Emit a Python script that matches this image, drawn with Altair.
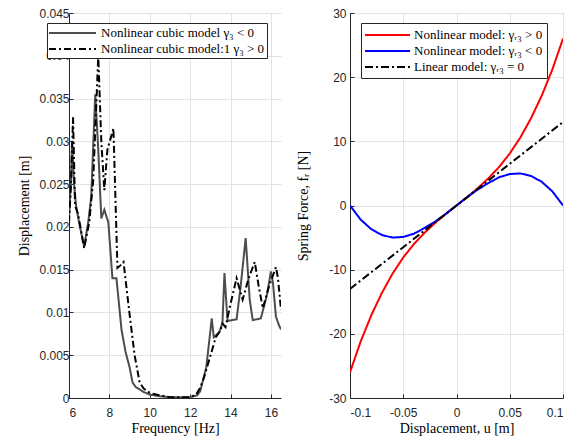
import altair as alt
import pandas as pd

# ---------------- Left panel data ----------------
freq_neg = [6.0, 6.1, 6.15, 6.25, 6.35, 6.5, 6.75, 6.95, 7.1, 7.3, 7.45, 7.6, 7.75, 7.95,
            8.15, 8.35, 8.6, 8.8, 9.0, 9.15, 9.3, 9.7, 10.0, 10.5, 11.0, 12.0, 12.35, 12.5,
            12.8, 13.07, 13.17, 13.45, 13.6, 13.7, 13.85, 14.3, 14.5, 14.75, 14.95, 15.1,
            15.5, 15.8, 16.0, 16.1, 16.25, 16.4, 16.5]
disp_neg = [0.021, 0.0255, 0.030, 0.025, 0.0225, 0.0205, 0.0177, 0.0205, 0.0235, 0.0355,
            0.029, 0.021, 0.022, 0.0205, 0.014, 0.014, 0.008, 0.0054, 0.0036, 0.0018, 0.0013,
            0.0007, 0.0004, 0.0002, 0.0001, 0.0001, 0.0003, 0.0008, 0.0036, 0.0093, 0.0071,
            0.0077, 0.0088, 0.0146, 0.009, 0.0092, 0.013, 0.0187, 0.0115, 0.0091, 0.0093,
            0.012, 0.0148, 0.0135, 0.0095, 0.0085, 0.008]

freq_pos = [6.0, 6.1, 6.2, 6.3, 6.45, 6.75, 7.0, 7.2, 7.45, 7.6, 7.75, 7.9, 8.2, 8.4, 8.55,
            8.7, 9.0, 9.25, 9.5, 9.7, 10.0, 10.5, 11.0, 12.0, 12.3, 12.5, 12.7, 12.95, 13.27,
            13.5, 13.6, 13.75, 14.0, 14.3, 14.6, 14.9, 15.2, 15.4, 15.6, 15.9, 16.25, 16.35, 16.5]
disp_pos = [0.0205, 0.025, 0.0328, 0.0225, 0.0215, 0.0175, 0.0205, 0.0255, 0.0400, 0.030,
            0.0243, 0.029, 0.0315, 0.0152, 0.0155, 0.0159, 0.0098, 0.005, 0.0018, 0.0011,
            0.0006, 0.0003, 0.0001, 0.0001, 0.0004, 0.0012, 0.0025, 0.0045, 0.0071, 0.0079,
            0.0087, 0.0083, 0.011, 0.014, 0.0115, 0.014, 0.0159, 0.013, 0.0105, 0.013, 0.0153,
            0.014, 0.0103]

left_series = ["Nonlinear cubic model γ₃ < 0", "Nonlinear cubic model:1 γ₃ > 0"]
left_colors = ["#4d4d4d", "#000000"]
left_dashes = [[1, 0], [7, 3, 2, 3]]
left_x_ticks = [6, 8, 10, 12, 14, 16]
left_y_ticks = [0, 0.005, 0.01, 0.015, 0.02, 0.025, 0.03, 0.035, 0.04, 0.045]

# ---------------- Right panel data ----------------
u_vals = [-0.1, -0.09, -0.08, -0.07, -0.06, -0.05, -0.04, -0.03, -0.02, -0.01, 0.0,
          0.01, 0.02, 0.03, 0.04, 0.05, 0.06, 0.07, 0.08, 0.09, 0.1]
force_hard = [-26.0, -21.2, -17.1, -13.6, -10.6, -8.1, -6.0, -4.25, -2.7, -1.3, 0.0,
              1.3, 2.7, 4.25, 6.0, 8.1, 10.6, 13.6, 17.1, 21.2, 26.0]
force_soft = [0.0, -2.2, -3.7, -4.6, -5.0, -4.9, -4.4, -3.5, -2.5, -1.3, 0.0,
              1.3, 2.5, 3.5, 4.4, 4.9, 5.0, 4.6, 3.7, 2.2, 0.0]
u_lin = [-0.1, 0.0, 0.1]
force_lin = [-13.0, 0.0, 13.0]

right_series = ["Nonlinear model: γᵣ₃ > 0", "Nonlinear model: γᵣ₃ < 0", "Linear model: γᵣ₃ = 0"]
right_colors = ["#ff0000", "#0000ff", "#000000"]
right_dashes = [[1, 0], [1, 0], [8, 3, 2, 3]]
right_x_ticks = [-0.1, -0.05, 0, 0.05, 0.1]
right_y_ticks = [-30, -20, -10, 0, 10, 20, 30]

# ---------------- Tables ----------------
df_left = pd.concat([
    pd.DataFrame({"f": freq_neg, "d": disp_neg, "s": left_series[0], "i": range(len(freq_neg))}),
    pd.DataFrame({"f": freq_pos, "d": disp_pos, "s": left_series[1], "i": range(len(freq_pos))}),
])
df_right = pd.concat([
    pd.DataFrame({"u": u_vals, "F": force_hard, "s": right_series[0], "i": range(len(u_vals))}),
    pd.DataFrame({"u": u_vals, "F": force_soft, "s": right_series[1], "i": range(len(u_vals))}),
    pd.DataFrame({"u": u_lin, "F": force_lin, "s": right_series[2], "i": range(len(u_lin))}),
])

AX = "#262626"
GRID = "#e3e3e3"
SERIF = "Liberation Serif"
SANS = "Liberation Sans"


def legend(x, y, pad, line_len, gap):
    size = 196          # 14 px entry
    r = 7.0             # sqrt(size) / 2
    c = 8.0             # symbol centre inside entry
    a = -c / r
    b = (line_len - c) / r
    path = f"M{a:.3f},0H{b:.3f}"
    return alt.Legend(title=None, orient="none", legendX=x, legendY=y,
                      fillColor="white", strokeColor=AX, padding=pad, cornerRadius=0,
                      labelFont=SERIF, labelFontSize=13, labelColor="black",
                      symbolType=path, symbolSize=size, symbolStrokeWidth=2,
                      rowPadding=1, labelLimit=400, labelOffset=line_len + gap - 2 * c)


def axis(title, values, orient, **kw):
    return alt.Axis(title=title, values=values, orient=orient, labelExpr="'' + datum.value",
                    grid=True, gridColor=GRID, domainColor=AX, ticks=True,
                    tickColor=AX, tickSize=alt.ExprRef("-4"),
                    labelFont=SANS, labelFontSize=12, labelColor=AX,
                    titleFont=SERIF, titleFontSize=14, titleFontWeight="normal",
                    titleColor="black", **kw)


left_leg = legend(-22, 10, 2, 47, 5)
left = alt.Chart(df_left).mark_line(strokeWidth=2, clip=True).encode(
    x=alt.X("f:Q", scale=alt.Scale(domain=[6, 16.5], nice=False, zero=False),
            axis=axis("Frequency [Hz]", left_x_ticks, "bottom", labelPadding=13, titlePadding=3)),
    y=alt.Y("d:Q", scale=alt.Scale(domain=[0, 0.045], nice=False),
            axis=axis("Displacement [m]", left_y_ticks, "left", labelPadding=4, titlePadding=7)),
    color=alt.Color("s:N", scale=alt.Scale(domain=left_series, range=left_colors), legend=left_leg),
    strokeDash=alt.StrokeDash("s:N", scale=alt.Scale(domain=left_series, range=left_dashes), legend=left_leg),
    order="i:Q",
).properties(width=212, height=385, view=alt.ViewBackground(stroke=None))

right_leg = legend(11, 10, 4, 45, 4)
right = alt.Chart(df_right).mark_line(strokeWidth=2, clip=True).encode(
    x=alt.X("u:Q", scale=alt.Scale(domain=[-0.1, 0.1], nice=False, zero=False),
            axis=axis("Displacement, u [m]", right_x_ticks, "bottom", labelPadding=13, titlePadding=3)),
    y=alt.Y("F:Q", scale=alt.Scale(domain=[-30, 30], nice=False),
            axis=axis("Spring Force, fᵣ [N]", right_y_ticks, "left", labelPadding=8, titlePadding=18)),
    color=alt.Color("s:N", scale=alt.Scale(domain=right_series, range=right_colors), legend=right_leg),
    strokeDash=alt.StrokeDash("s:N", scale=alt.Scale(domain=right_series, range=right_dashes), legend=right_leg),
    order="i:Q",
).properties(width=213, height=385, view=alt.ViewBackground(stroke=AX))

chart = alt.hconcat(left, right, spacing=15).resolve_scale(
    color="independent", strokeDash="independent"
).resolve_legend(color="independent", strokeDash="independent").properties(
    background="white", padding={"left": 17, "top": 6, "right": 3, "bottom": 3}
)

chart.save("out.html", embed_options={"renderer": "svg", "actions": False})
